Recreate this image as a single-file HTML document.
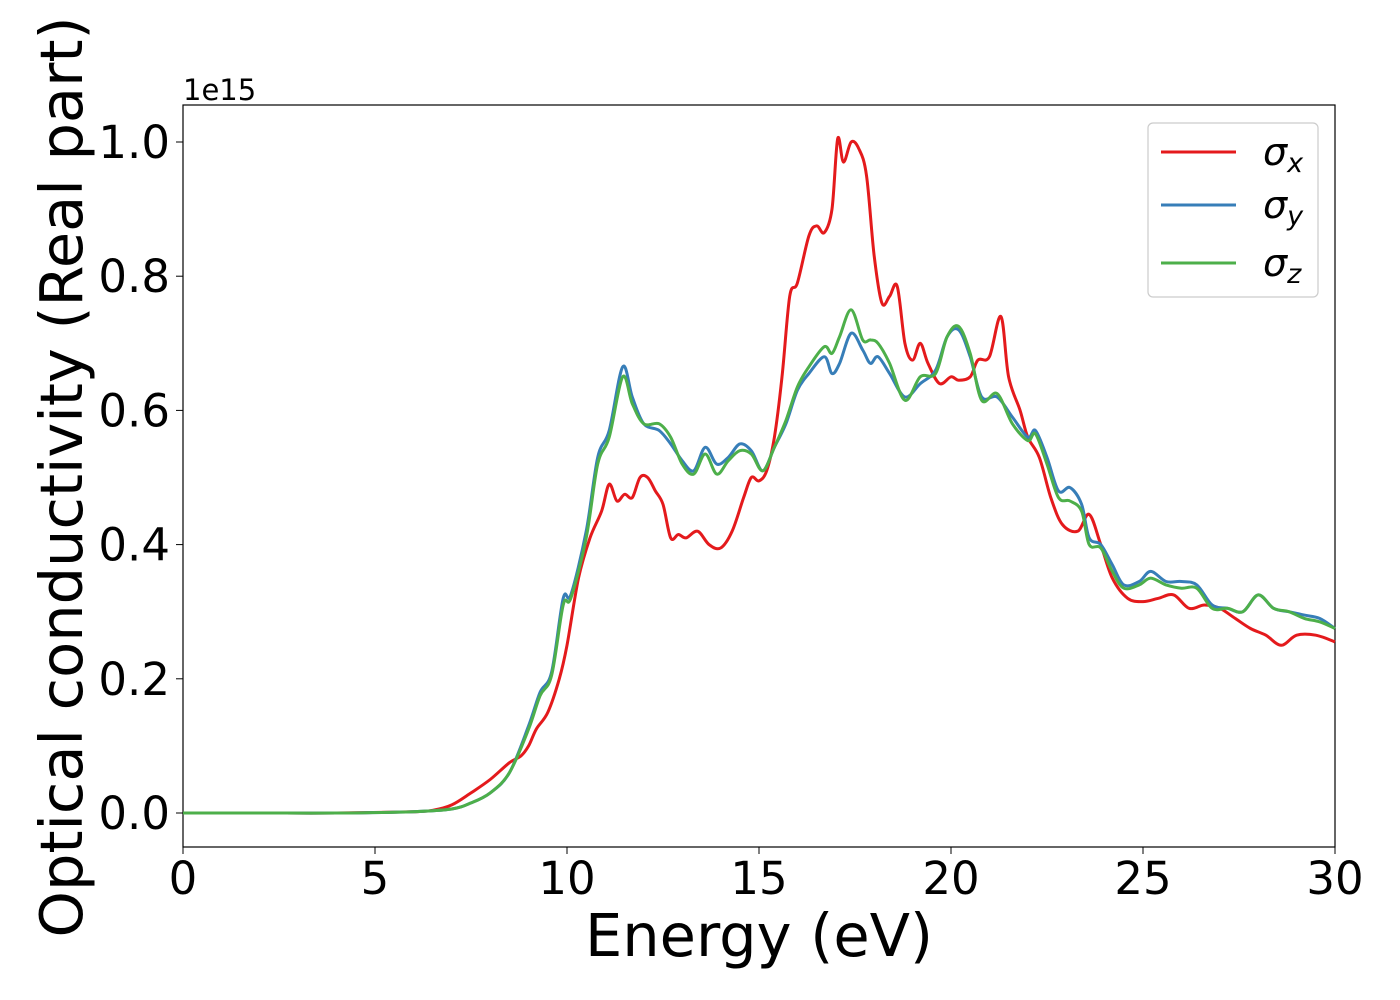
<!DOCTYPE html>
<html><head><meta charset="utf-8"><style>
html,body{margin:0;padding:0;background:#fff;}
svg{display:block;font-family:"DejaVu Sans","Liberation Sans",sans-serif;}
</style></head><body>
<svg id="chart" width="1400" height="1000" viewBox="0 0 1400 1000">
<rect x="183" y="105" width="1152" height="742" fill="#fff" stroke="#000" stroke-width="1.2"/>
<g id="series"></g>
<g id="xticks"></g>
<g id="yticks"></g>
<text x="183" y="100" font-size="29">1e15</text>
<text x="759" y="956" font-size="59" text-anchor="middle">Energy (eV)</text>
<text transform="translate(82,477) rotate(-90)" font-size="59" text-anchor="middle">Optical conductivity (Real part)</text>
<g>
<rect x="1148" y="123" width="170" height="174" rx="5" fill="#fff" stroke="#ccc" stroke-width="1.2"/>
<line x1="1161" y1="152" x2="1236" y2="152" stroke="#e41a1c" stroke-width="3"/>
<line x1="1161" y1="205" x2="1236" y2="205" stroke="#377eb8" stroke-width="3"/>
<line x1="1161" y1="263" x2="1236" y2="263" stroke="#4daf4a" stroke-width="3"/>
<text x="1263" y="165" font-size="38" font-style="italic">σ<tspan font-size="27" dy="7">x</tspan></text>
<text x="1263" y="218" font-size="38" font-style="italic">σ<tspan font-size="27" dy="7">y</tspan></text>
<text x="1263" y="276" font-size="38" font-style="italic">σ<tspan font-size="27" dy="7">z</tspan></text>
</g>
</svg>
<script>
const xTickValues=[0,5,10,15,20,25,30];
const yTickValues=[0,0.2,0.4,0.6,0.8,1.0];
const yTickLabels=["0.0","0.2","0.4","0.6","0.8","1.0"];
const energyX=[0,2,4,6,6.5,7,7.5,8,8.5,8.8,9,9.2,9.5,9.8,10,10.3,10.6,10.9,11.1,11.3,11.5,11.7,11.9,12.1,12.3,12.5,12.7,12.9,13.1,13.4,13.7,14,14.3,14.6,14.8,15,15.2,15.4,15.6,15.8,16,16.3,16.5,16.7,16.9,17.05,17.2,17.4,17.6,17.8,18,18.2,18.4,18.6,18.8,19,19.2,19.4,19.7,20,20.2,20.5,20.7,21,21.3,21.5,21.8,22,22.3,22.6,22.9,23.3,23.6,23.9,24.2,24.6,25,25.4,25.8,26.2,26.6,27,27.4,27.8,28.2,28.6,29,29.5,30];
const sigmaXValues=[0,0,0,0.002,0.004,0.012,0.03,0.05,0.075,0.085,0.1,0.125,0.15,0.2,0.25,0.35,0.41,0.45,0.49,0.465,0.475,0.47,0.5,0.5,0.48,0.46,0.41,0.415,0.41,0.42,0.4,0.395,0.42,0.47,0.5,0.495,0.51,0.56,0.65,0.77,0.79,0.86,0.875,0.865,0.9,1.005,0.97,1.0,0.99,0.95,0.83,0.76,0.77,0.785,0.7,0.675,0.7,0.67,0.64,0.65,0.645,0.65,0.675,0.68,0.74,0.65,0.6,0.56,0.53,0.47,0.43,0.42,0.445,0.4,0.35,0.32,0.315,0.32,0.325,0.305,0.31,0.305,0.29,0.275,0.265,0.25,0.265,0.265,0.255];
const energyYZ=[0,2,4,6,7,7.5,8,8.5,9,9.3,9.6,9.9,10.1,10.5,10.8,11.1,11.45,11.7,12,12.4,12.7,13,13.3,13.6,13.9,14.2,14.5,14.8,15.1,15.4,15.7,16,16.3,16.7,16.9,17.1,17.4,17.7,17.9,18.1,18.4,18.8,19.2,19.6,19.9,20.2,20.5,20.8,21.2,21.6,22,22.2,22.5,22.8,23.1,23.4,23.6,23.9,24.2,24.5,24.9,25.2,25.6,26,26.4,26.8,27.2,27.6,28,28.4,28.8,29.2,29.6,30];
const sigmaYValues=[0,0,0,0.002,0.006,0.015,0.03,0.06,0.13,0.18,0.21,0.32,0.325,0.42,0.53,0.57,0.665,0.62,0.58,0.57,0.55,0.525,0.51,0.545,0.52,0.53,0.55,0.54,0.51,0.545,0.58,0.63,0.655,0.68,0.655,0.67,0.715,0.69,0.67,0.68,0.655,0.62,0.64,0.66,0.71,0.72,0.68,0.62,0.62,0.59,0.56,0.57,0.53,0.48,0.485,0.46,0.41,0.4,0.37,0.34,0.345,0.36,0.345,0.345,0.34,0.31,0.305,0.3,0.325,0.305,0.3,0.295,0.29,0.275];
const sigmaZValues=[0,0,0,0.002,0.006,0.015,0.03,0.06,0.125,0.175,0.205,0.31,0.32,0.41,0.52,0.56,0.65,0.61,0.58,0.58,0.56,0.52,0.505,0.535,0.505,0.525,0.54,0.535,0.51,0.545,0.585,0.635,0.665,0.695,0.685,0.71,0.75,0.705,0.705,0.7,0.67,0.615,0.65,0.655,0.71,0.725,0.685,0.615,0.625,0.58,0.555,0.565,0.52,0.47,0.465,0.45,0.4,0.395,0.36,0.335,0.34,0.35,0.34,0.335,0.335,0.305,0.305,0.3,0.325,0.305,0.3,0.29,0.285,0.275];
const NS="http://www.w3.org/2000/svg";
const X0=183,X1=1335,Y0px=813,Y1px=142;
function xs(v){return X0+(v/30)*(X1-X0);}
function ys(v){return Y0px+(v/1.0)*(Y1px-Y0px);}
function pathFor(xa,ya){
  const p=xa.map((x,i)=>[xs(x),ys(ya[i])]);
  let d="M"+p[0][0].toFixed(1)+","+p[0][1].toFixed(1);
  for(let i=0;i<p.length-1;i++){
    const a=p[Math.max(0,i-1)],b=p[i],c=p[i+1],e=p[Math.min(p.length-1,i+2)];
    const c1x=b[0]+(c[0]-a[0])/6,c1y=b[1]+(c[1]-a[1])/6;
    const c2x=c[0]-(e[0]-b[0])/6,c2y=c[1]-(e[1]-b[1])/6;
    d+=" C"+c1x.toFixed(1)+","+c1y.toFixed(1)+" "+c2x.toFixed(1)+","+c2y.toFixed(1)+" "+c[0].toFixed(1)+","+c[1].toFixed(1);
  }
  return d;
}
const sg=document.getElementById("series");
function addLine(xa,ya,color,name){
  const el=document.createElementNS(NS,"path");
  el.setAttribute("d",pathFor(xa,ya));
  el.setAttribute("fill","none");
  el.setAttribute("stroke",color);
  el.setAttribute("stroke-width","3");
  
  
  sg.appendChild(el);
}
addLine(energyX,sigmaXValues,"#e41a1c","line-sigma-x");
addLine(energyYZ,sigmaYValues,"#377eb8","line-sigma-y");
addLine(energyYZ,sigmaZValues,"#4daf4a","line-sigma-z");
const xg=document.getElementById("xticks");
xTickValues.forEach(v=>{
  const t=document.createElementNS(NS,"line");
  t.setAttribute("x1",xs(v));t.setAttribute("x2",xs(v));
  t.setAttribute("y1",847);t.setAttribute("y2",854);
  t.setAttribute("stroke","#000");
  
  
  xg.appendChild(t);
  const l=document.createElementNS(NS,"text");
  l.setAttribute("x",xs(v));l.setAttribute("y",894);
  l.setAttribute("font-size","45");l.setAttribute("text-anchor","middle");
  l.textContent=String(v);
  
  
  xg.appendChild(l);
});
const yg=document.getElementById("yticks");
yTickValues.forEach((v,i)=>{
  const t=document.createElementNS(NS,"line");
  t.setAttribute("x1",176);t.setAttribute("x2",183);
  t.setAttribute("y1",ys(v));t.setAttribute("y2",ys(v));
  t.setAttribute("stroke","#000");
  
  
  yg.appendChild(t);
  const l=document.createElementNS(NS,"text");
  l.setAttribute("x",170);l.setAttribute("y",ys(v)+16);
  l.setAttribute("font-size","45");l.setAttribute("text-anchor","end");
  l.textContent=yTickLabels[i];
  
  
  yg.appendChild(l);
});
</script>
</body></html>
